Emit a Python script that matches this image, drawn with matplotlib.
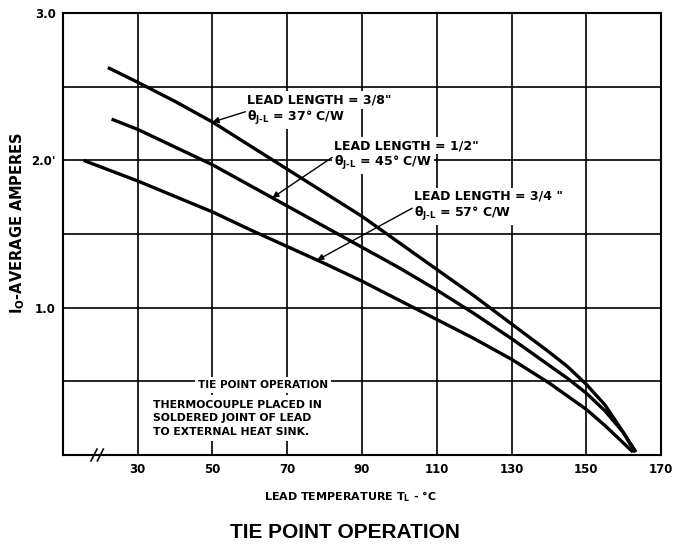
import numpy as np
import matplotlib
matplotlib.use("Agg")
import matplotlib.pyplot as plt

plt.rcParams['font.family'] = ['DejaVu Sans']
plt.rcParams['font.weight'] = 'bold'
plt.rcParams['mathtext.default'] = 'bf'

# curves (lead temperature in C, average amps)
temp_38 = [22, 30, 40, 50, 60, 70, 80, 90, 100, 110, 120, 130, 140, 145, 150, 155, 160, 163.3]
amps_38 = [2.63, 2.53, 2.40, 2.26, 2.10, 1.94, 1.78, 1.62, 1.44, 1.26, 1.08, 0.89, 0.70,
           0.60, 0.48, 0.34, 0.15, 0.02]

temp_12 = [23, 30, 40, 50, 60, 70, 80, 90, 100, 110, 120, 130, 140, 145, 150, 155, 160, 163]
amps_12 = [2.28, 2.21, 2.09, 1.97, 1.83, 1.69, 1.55, 1.41, 1.27, 1.12, 0.96, 0.79, 0.61,
           0.52, 0.42, 0.30, 0.15, 0.02]

temp_34 = [15.5, 30, 40, 50, 60, 70, 80, 90, 100, 110, 120, 130, 140, 150, 155, 160, 162.5]
amps_34 = [2.00, 1.86, 1.755, 1.65, 1.53, 1.415, 1.30, 1.18, 1.05, 0.92, 0.79, 0.65, 0.49,
           0.31, 0.20, 0.08, 0.02]

x_ticks = [30, 50, 70, 90, 110, 130, 150, 170]
y_ticks = [0.5, 1.0, 1.5, 2.0, 2.5, 3.0]
y_labels = ['', '1.0', '', "2.0'", '', '3.0']

labels = ['LEAD LENGTH = 3/8"', 'LEAD LENGTH = 1/2"', 'LEAD LENGTH = 3/4 "']
theta = ['37', '45', '57']

fig = plt.figure(figsize=(6.89, 5.5), dpi=100)
ax = fig.add_axes([0.0914, 0.1727, 0.8680, 0.8036])
ax.set_xlim(10, 170)
ax.set_ylim(0, 3)

for v in x_ticks:
    ax.axvline(v, color='black', lw=1.2, zorder=1)
for v in y_ticks:
    ax.axhline(v, color='black', lw=1.2, zorder=1)

for t, a in [(temp_38, amps_38), (temp_12, amps_12), (temp_34, amps_34)]:
    ax.plot(t, a, color='black', lw=2.4, solid_capstyle='butt', solid_joinstyle='round',
            zorder=3)

ax.set_xticks(x_ticks)
ax.set_xticklabels([str(v) for v in x_ticks], fontsize=8.5)
ax.set_yticks(y_ticks)
ax.set_yticklabels(y_labels, fontsize=8.5)
ax.tick_params(axis='x', length=0, pad=6)
ax.tick_params(axis='y', length=0, pad=5)
for s in ax.spines.values():
    s.set_linewidth(1.5)

# break mark on the x axis
for xb in [18.3, 20.0]:
    ax.plot([xb - 0.8, xb + 0.8], [-0.04, 0.04], color='black', lw=1.2,
            clip_on=False, zorder=5)

# curve labels with arrows
text_pos = [(59.3, 2.41), (82.5, 2.10), (103.9, 1.755)]
arrow_x = [50, 66, 78]
curves = [(temp_38, amps_38), (temp_12, amps_12), (temp_34, amps_34)]
box = dict(facecolor='white', edgecolor='none', pad=1.5)
for i in range(3):
    tx, ty = text_pos[i]
    ax.text(tx, ty, labels[i], fontsize=9, va='center', ha='left', bbox=box, zorder=4)
    ax.text(tx, ty - 0.12, r'θ$_{\text{J-L}}$ = ' + theta[i] + '° C/W', fontsize=9,
            va='center', ha='left', bbox=box, zorder=4)
    ay = np.interp(arrow_x[i], curves[i][0], curves[i][1])
    ax.annotate('', xy=(arrow_x[i], ay), xytext=(tx - 0.5, ty - 0.08),
                arrowprops=dict(arrowstyle='-|>', color='black', lw=1,
                                mutation_scale=9, shrinkA=0, shrinkB=0),
                zorder=4)

# note in lower left
note = ['THERMOCOUPLE PLACED IN', 'SOLDERED JOINT OF LEAD', 'TO EXTERNAL HEAT SINK.']
ax.text(63.5, 0.475, 'TIE POINT OPERATION', fontsize=7.6, ha='center', va='center',
        bbox=dict(facecolor='white', edgecolor='none', pad=2), zorder=4)
ax.text(34, 0.25, '\n'.join(note), fontsize=7.8, ha='left', va='center',
        linespacing=1.45, bbox=dict(facecolor='white', edgecolor='none', pad=3),
        zorder=4)

fig.text(350 / 689, 1 - 497 / 550, 'LEAD TEMPERATURE T$_L$ - °C', fontsize=8,
         ha='center', va='center')
fig.text(18 / 689, 1 - 223 / 550, 'I$_O$-AVERAGE AMPERES', fontsize=10.5,
         rotation=90, ha='center', va='center')
fig.text(345 / 689, 1 - 533 / 550, 'TIE POINT OPERATION', fontsize=15, fontweight='bold',
         family=['Liberation Sans Narrow', 'Liberation Sans'], ha='center', va='center')

fig.savefig('out.png', dpi=100)
